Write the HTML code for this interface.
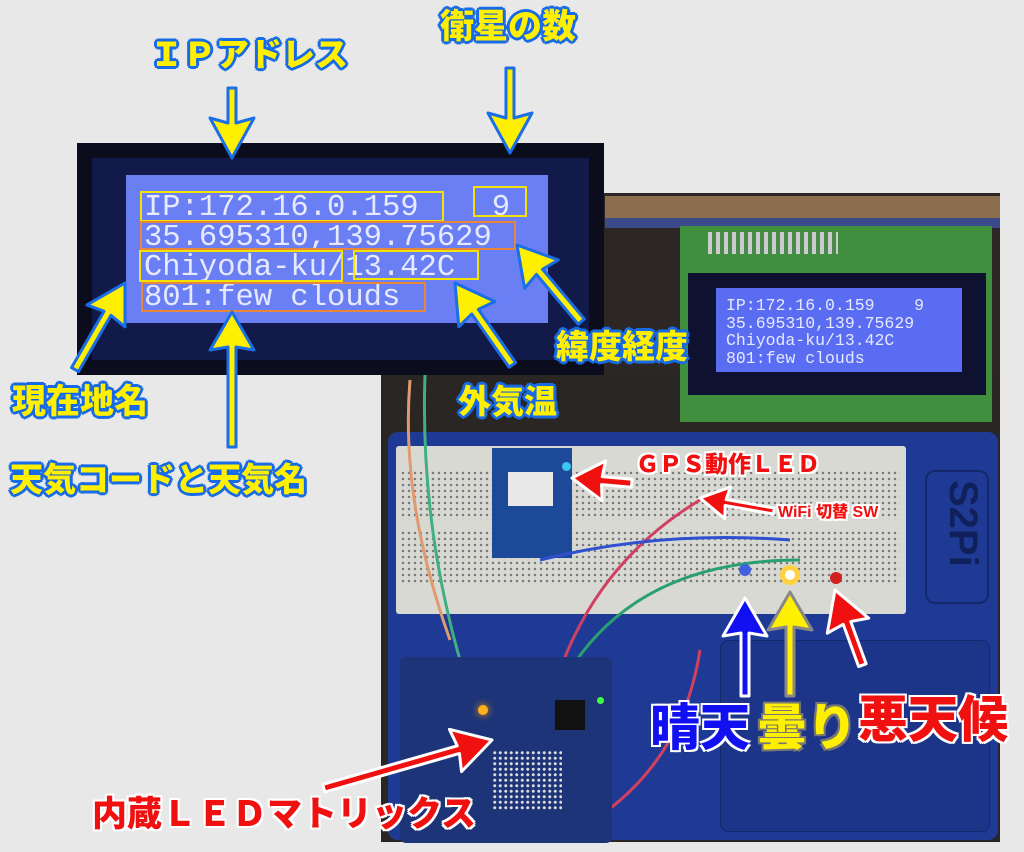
<!DOCTYPE html>
<html><head><meta charset="utf-8"><style>
body{margin:0;width:1024px;height:852px;background:#e8e8e8;position:relative;overflow:hidden;font-family:"Liberation Sans","Noto Sans CJK JP",sans-serif}
.a{position:absolute}
.yl{position:absolute;color:#ffef00;font-weight:900;text-shadow:0 0 3px #1060e0,2px 2px 0 #1a6ee8,-2px -2px 0 #1a6ee8,2px -2px 0 #1a6ee8,-2px 2px 0 #1a6ee8,3px 0 0 #1a6ee8,-3px 0 0 #1a6ee8,0 3px 0 #1a6ee8,0 -3px 0 #1a6ee8;white-space:nowrap;line-height:1}
.rl{position:absolute;color:#f01010;font-weight:900;text-shadow:2px 2px 0 #fff,-2px -2px 0 #fff,2px -2px 0 #fff,-2px 2px 0 #fff,2px 0 0 #fff,-2px 0 0 #fff,0 2px 0 #fff,0 -2px 0 #fff;white-space:nowrap;line-height:1}
.lcd{position:absolute;font-family:"Liberation Mono",monospace;color:#e6e9ff;white-space:pre}
.bx{position:absolute;border:2px solid #f2e300}
.bo{position:absolute;border:2px solid #e8863a}
</style></head><body>
<div class="a" style="left:600px;top:193px;width:400px;height:190px;background:#2c2624"></div>
<div class="a" style="left:381px;top:372px;width:619px;height:470px;background:#2a2624"></div>
<div class="a" style="left:605px;top:196px;width:395px;height:22px;background:#8a6e4e"></div>
<div class="a" style="left:605px;top:218px;width:395px;height:10px;background:#3a4a8a"></div>
<div class="a" style="left:680px;top:226px;width:312px;height:196px;background:#3f8f3f"></div>
<div class="a" style="left:708px;top:232px;width:130px;height:22px;background:repeating-linear-gradient(90deg,#ccc 0 4px,#4a8a4a 4px 8px)"></div>
<div class="a" style="left:688px;top:273px;width:298px;height:122px;background:#0e1130"></div>
<div class="a" style="left:716px;top:288px;width:246px;height:84px;background:#5a6df2"></div>
<div class="lcd" style="left:726px;top:297px;font-size:16.5px;line-height:17.5px">IP:172.16.0.159    9
35.695310,139.75629
Chiyoda-ku/13.42C
801:few clouds</div>
<div class="a" style="left:388px;top:432px;width:610px;height:408px;background:#1f3a94;border-radius:10px"></div>
<div class="a" style="left:720px;top:640px;width:268px;height:190px;background:#1c3588;border-radius:8px;border:1px solid #15286a"></div>
<div class="a" style="left:925px;top:470px;width:60px;height:130px;border:2px solid #15286a;border-radius:10px"></div>
<div class="a" style="top:480px;font-size:40px;color:#10205a;font-weight:bold;transform:rotate(90deg);transform-origin:left top;left:985px">S2Pi</div>
<div class="a" style="left:396px;top:446px;width:510px;height:168px;background:#d9d9d4;border-radius:3px"></div>
<div class="a" style="left:400px;top:470px;width:500px;height:50px;background:radial-gradient(circle,#777 1px,transparent 1.5px) 0 0/6px 6px"></div>
<div class="a" style="left:400px;top:530px;width:500px;height:55px;background:radial-gradient(circle,#777 1px,transparent 1.5px) 0 0/6px 6px"></div>
<div class="a" style="left:492px;top:448px;width:80px;height:110px;background:#1d4a98"></div>
<div class="a" style="left:508px;top:472px;width:45px;height:34px;background:#e8e8e8"></div>
<div class="a" style="left:562px;top:462px;width:9px;height:9px;border-radius:50%;background:#38c8f0"></div>
<svg class="a" style="left:0;top:0" width="1024" height="852">
<path d="M410 380 Q400 500 450 640" stroke="#e09a70" stroke-width="3" fill="none"/>
<path d="M425 375 Q420 520 460 660" stroke="#40b080" stroke-width="3" fill="none"/>
<path d="M560 670 Q600 560 700 500" stroke="#d04060" stroke-width="3" fill="none"/>
<path d="M570 670 Q640 560 800 560" stroke="#2aa070" stroke-width="3" fill="none"/>
<path d="M540 560 Q660 530 790 540" stroke="#3050d0" stroke-width="3" fill="none"/>
<path d="M700 650 Q680 780 560 840" stroke="#d04060" stroke-width="3" fill="none"/>
<circle cx="745" cy="570" r="6" fill="#4060e0"/>
<circle cx="790" cy="575" r="10" fill="#ffd040"/>
<circle cx="790" cy="575" r="5" fill="#fff"/>
<circle cx="836" cy="578" r="6" fill="#d02020"/>
</svg>
<div class="a" style="left:400px;top:657px;width:212px;height:186px;background:#1d3478;border-radius:6px"></div>
<div class="a" style="left:492px;top:750px;width:70px;height:60px;background:radial-gradient(circle,#ddd 1.2px,transparent 1.8px) 0 0/5.5px 5.5px"></div>
<div class="a" style="left:555px;top:700px;width:30px;height:30px;background:#111"></div>
<div class="a" style="left:478px;top:705px;width:10px;height:10px;border-radius:50%;background:#ffb020;box-shadow:0 0 8px #ffa000"></div>
<div class="a" style="left:597px;top:697px;width:7px;height:7px;border-radius:50%;background:#40ff40"></div>
<div class="a" style="left:77px;top:143px;width:527px;height:232px;background:#0b0d1c"></div>
<div class="a" style="left:92px;top:158px;width:497px;height:202px;background:#121a4a"></div>
<div class="a" style="left:126px;top:175px;width:422px;height:148px;background:#6b7ff4"></div>
<div class="lcd" style="left:144px;top:193px;font-size:30.5px;line-height:30px">IP:172.16.0.159    9
35.695310,139.75629
Chiyoda-ku/13.42C
801:few clouds</div>
<div class="bx" style="left:140px;top:191px;width:300px;height:27px"></div>
<div class="bx" style="left:473px;top:186px;width:50px;height:27px"></div>
<div class="bo" style="left:140px;top:221px;width:372px;height:25px"></div>
<div class="bx" style="left:139px;top:250px;width:200px;height:28px"></div>
<div class="bx" style="left:353px;top:250px;width:122px;height:26px"></div>
<div class="bo" style="left:141px;top:282px;width:281px;height:26px"></div>
<svg class="a" style="left:0;top:0" width="1024" height="852">
<g transform="translate(232,118)"><path d="M-4 -30 L4 -30 L4 5 L22 0 L0 40 L-22 0 L-4 5Z" fill="#ffef00" stroke="#1a6ee8" stroke-width="3" stroke-linejoin="round"/></g>
<g transform="translate(510,118)"><path d="M-4 -50 L4 -50 L4 0 L22 -5 L0 35 L-22 -5 L-4 0Z" fill="#ffef00" stroke="#1a6ee8" stroke-width="3" stroke-linejoin="round"/></g>
<g transform="translate(232,312) rotate(180)"><path d="M-4 -135 L4 -135 L4 -35 L22 -38 L0 0 L-22 -38 L-4 -35Z" fill="#ffef00" stroke="#1a6ee8" stroke-width="3" stroke-linejoin="round"/></g>
<g transform="translate(125,283) rotate(210)"><path d="M-4 -100 L4 -100 L4 -35 L22 -38 L0 0 L-22 -38 L-4 -35Z" fill="#ffef00" stroke="#1a6ee8" stroke-width="3" stroke-linejoin="round"/></g>
<g transform="translate(455,283) rotate(145)"><path d="M-4 -100 L4 -100 L4 -35 L22 -38 L0 0 L-22 -38 L-4 -35Z" fill="#ffef00" stroke="#1a6ee8" stroke-width="3" stroke-linejoin="round"/></g>
<g transform="translate(517,245) rotate(140)"><path d="M-4 -100 L4 -100 L4 -35 L22 -38 L0 0 L-22 -38 L-4 -35Z" fill="#ffef00" stroke="#1a6ee8" stroke-width="3" stroke-linejoin="round"/></g>
<g transform="translate(572,478) rotate(95)"><path d="M-4 -60 L4 -60 L4 -30 L20 -32 L0 0 L-20 -32 L-4 -30Z" fill="#f01010" stroke="#fff" stroke-width="3" stroke-linejoin="round"/></g>
<g transform="translate(700,498) rotate(100)"><path d="M-3 -75 L3 -75 L3 -26 L16 -28 L0 0 L-16 -28 L-3 -26Z" fill="#f01010" stroke="#fff" stroke-width="3" stroke-linejoin="round"/></g>
<g transform="translate(492,740) rotate(-106)"><path d="M-4 -175 L4 -175 L4 -35 L22 -38 L0 0 L-22 -38 L-4 -35Z" fill="#f01010" stroke="#fff" stroke-width="3" stroke-linejoin="round"/></g>
<g transform="translate(745,598) rotate(180)"><path d="M-4 -98 L4 -98 L4 -35 L22 -38 L0 0 L-22 -38 L-4 -35Z" fill="#1010f0" stroke="#fff" stroke-width="3" stroke-linejoin="round"/></g>
<g transform="translate(790,592) rotate(180)"><path d="M-4 -104 L4 -104 L4 -35 L22 -38 L0 0 L-22 -38 L-4 -35Z" fill="#ffef00" stroke="#888" stroke-width="3" stroke-linejoin="round"/></g>
<g transform="translate(835,590) rotate(160)"><path d="M-4 -80 L4 -80 L4 -35 L22 -38 L0 0 L-22 -38 L-4 -35Z" fill="#f01010" stroke="#fff" stroke-width="3" stroke-linejoin="round"/></g>
</svg>
<div class="yl" style="left:150px;top:38px;font-size:33px">ＩＰアドレス</div>
<div class="yl" style="left:440px;top:10px;font-size:34px">衛星の数</div>
<div class="yl" style="left:556px;top:330px;font-size:33px">緯度経度</div>
<div class="yl" style="left:458px;top:385px;font-size:33px">外気温</div>
<div class="yl" style="left:12px;top:385px;font-size:34px">現在地名</div>
<div class="yl" style="left:10px;top:463px;font-size:33px">天気コードと天気名</div>
<div class="rl" style="left:636px;top:453px;font-size:23px">ＧＰＳ動作ＬＥＤ</div>
<div class="rl" style="left:778px;top:505px;font-size:16px">WiFi 切替 SW</div>
<div class="rl" style="left:92px;top:797px;font-size:35px">内蔵ＬＥＤマトリックス</div>
<div class="a" style="left:650px;top:703px;font-size:50px;font-weight:900;color:#1010f0;text-shadow:2px 2px 0 #fff,-2px -2px 0 #fff,2px -2px 0 #fff,-2px 2px 0 #fff;line-height:1">晴天</div>
<div class="a" style="left:757px;top:703px;font-size:50px;font-weight:900;color:#ffef00;text-shadow:2px 2px 0 #777,-2px -2px 0 #777,2px -2px 0 #777,-2px 2px 0 #777;line-height:1">曇り</div>
<div class="rl" style="left:858px;top:695px;font-size:50px">悪天候</div>
</body></html>
